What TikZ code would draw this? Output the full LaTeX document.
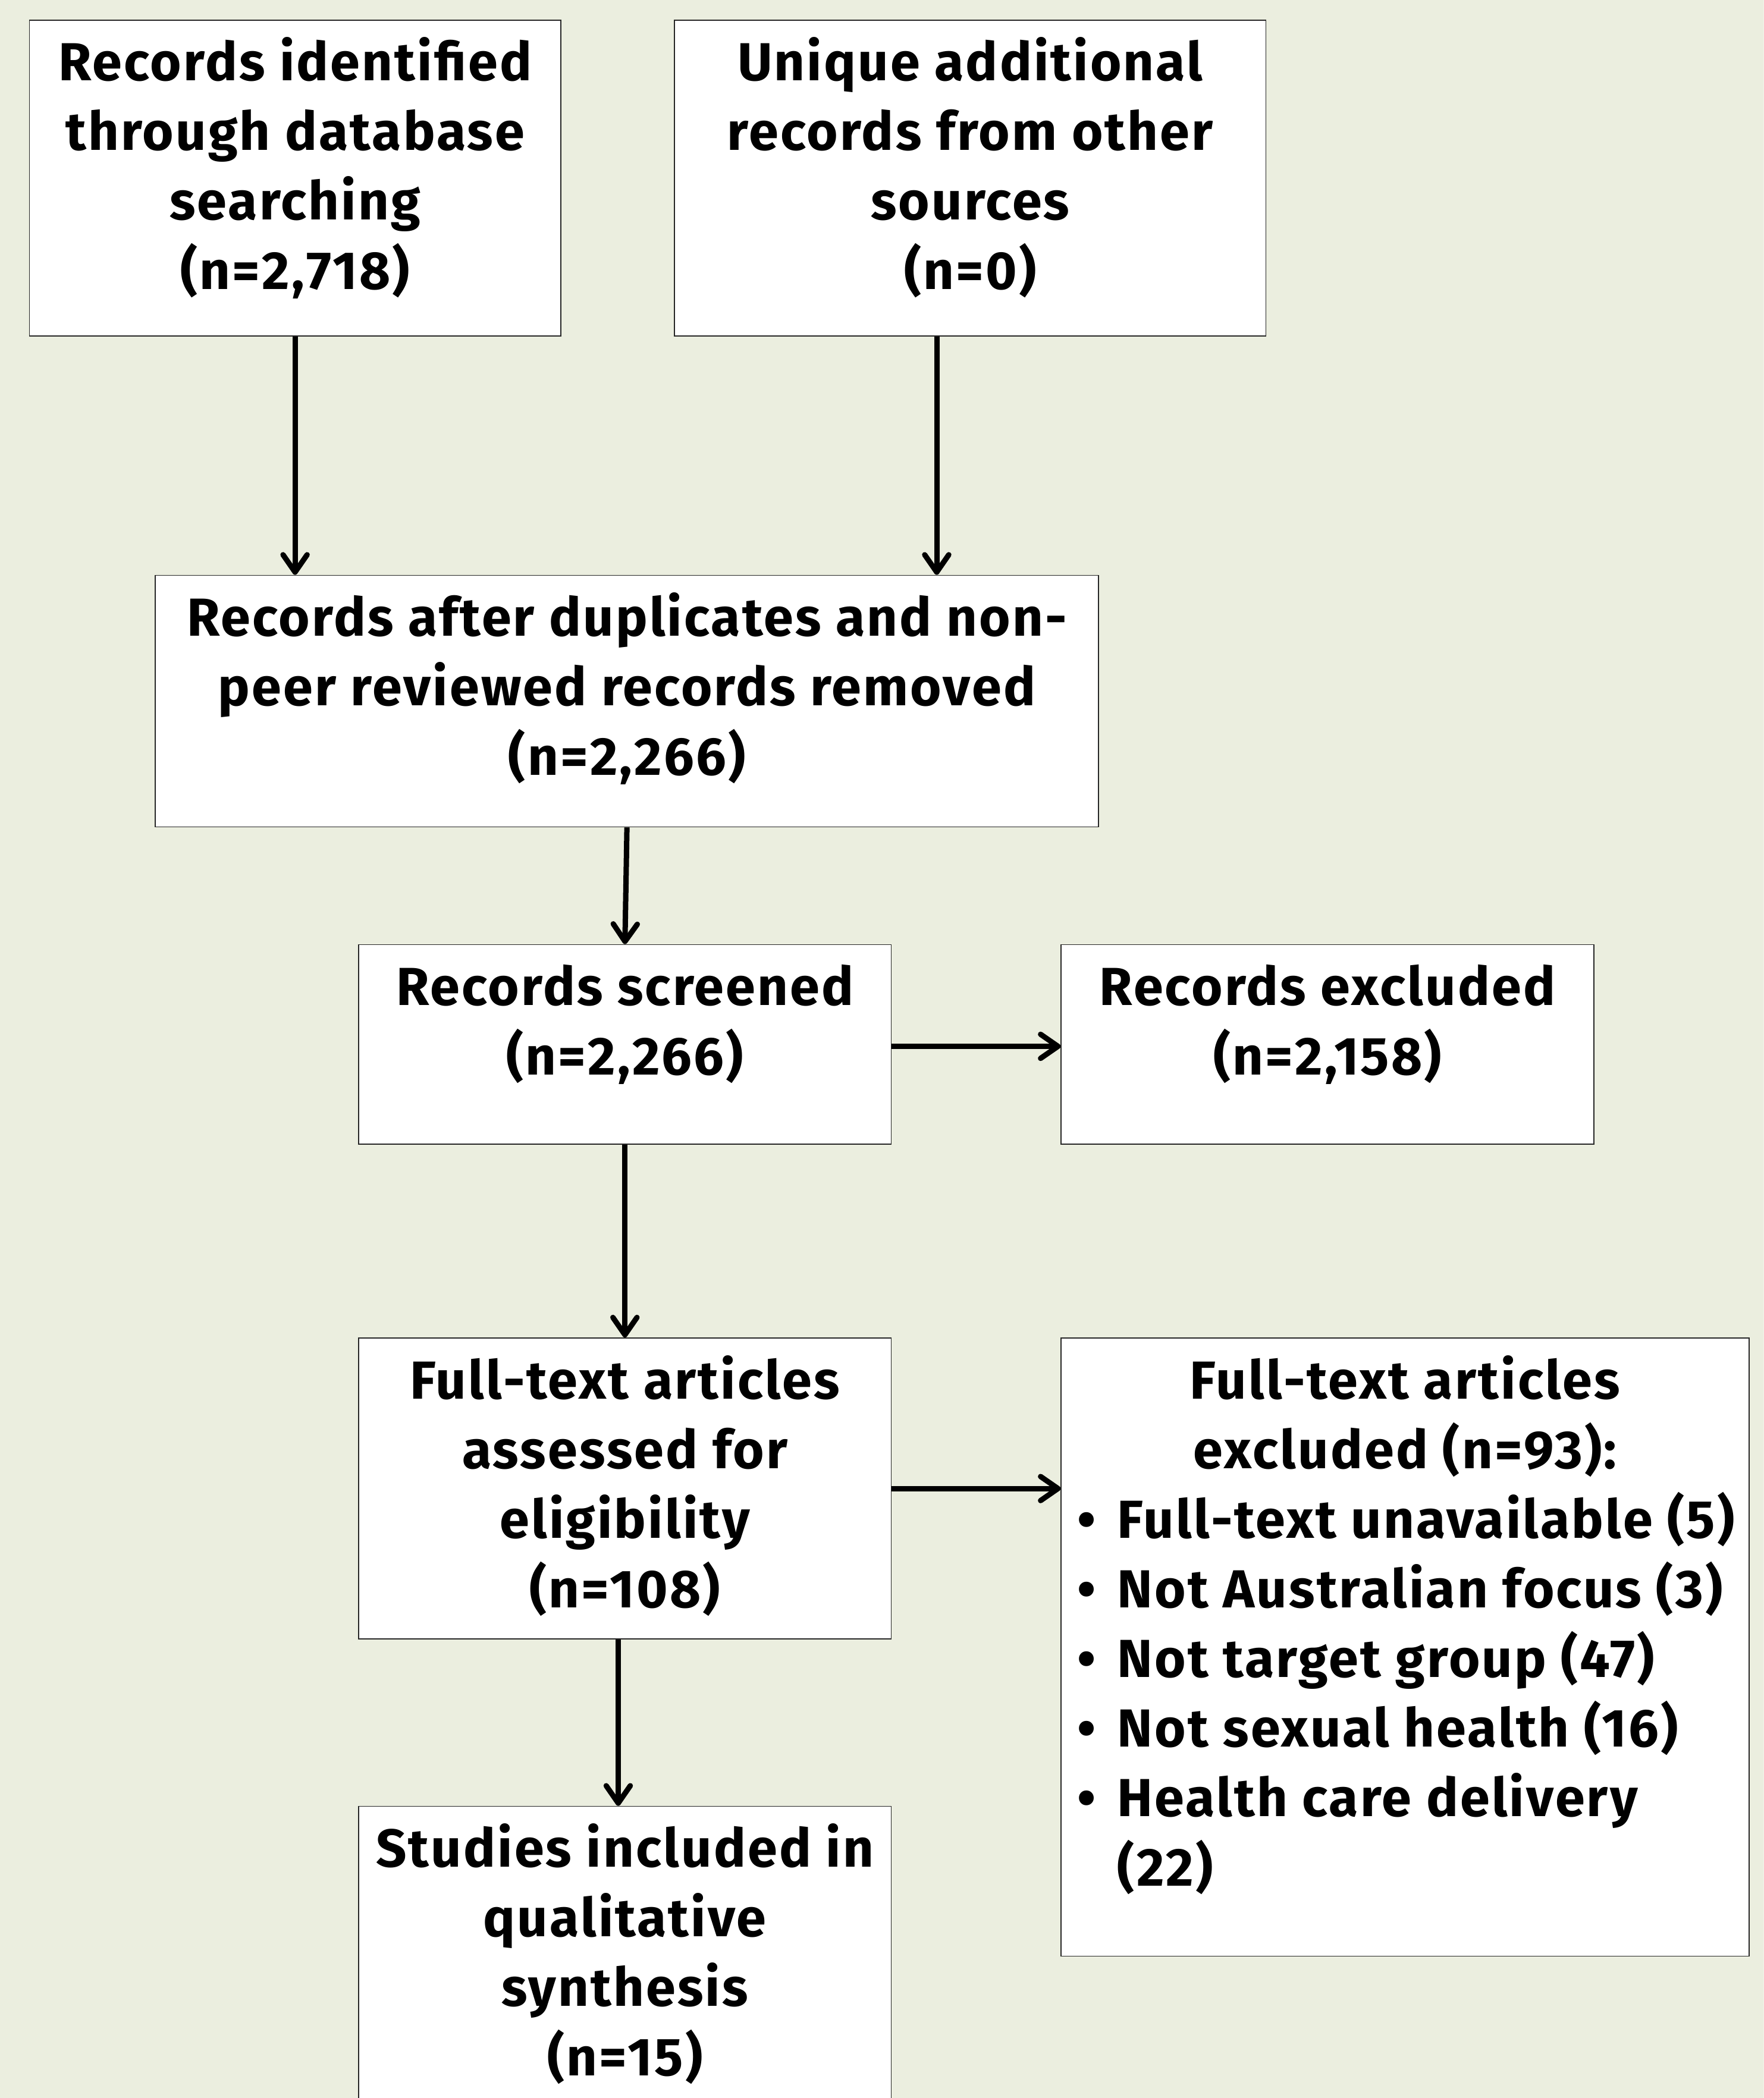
\documentclass[tikz,border=0pt]{standalone}
\usepackage{fontspec}
\setmainfont{Fira Sans}[LetterSpace=3.5]
\usetikzlibrary{arrows.meta}

\definecolor{bgcol}{HTML}{EBEEDF}
\definecolor{edgecol}{HTML}{262626}

% text set from the top of a box of given width and height
\newcommand{\toptext}[3]{\parbox[c][#2][t]{#1}{\centering\vspace*{9pt}\strut #3}}

\begin{document}
\begin{tikzpicture}[x=1pt, y=-1pt,
  box/.style={draw=edgecol, line width=0.8pt, fill=white, inner sep=0pt,
    font=\fontsize{40pt}{52pt}\selectfont\bfseries},
  arr/.style={line width=4pt, -{Straight Barb[length=13pt,width=18pt,round]}}]
\useasboundingbox (0,0) rectangle (1318,1568);
\clip (0,0) rectangle (1318,1568);
\fill[bgcol] (0,0) rectangle (1318,1568);

\node[box] (ident) at (220.5,133) {\toptext{397pt}{236pt}{Records identified\\through database\\searching\\(n=2,718)}};
\node[box] (other) at (725,133) {\toptext{442pt}{236pt}{Unique additional\\records from other\\sources\\(n=0)}};
\node[box] (dedup) at (468.5,524) {\toptext{705pt}{188pt}{Records after duplicates and non-\\peer reviewed records removed\\(n=2,266)}};
\node[box] (screen) at (467,780.5) {\toptext{398pt}{149pt}{Records screened\\(n=2,266)}};
\node[box] (excl) at (992,780.5) {\toptext{398pt}{149pt}{Records excluded\\(n=2,158)}};
\node[box] (full) at (467,1112.5) {\toptext{398pt}{225pt}{Full-text articles\\assessed for\\eligibility\\(n=108)}};
\node[box] (fullex) at (1050,1231) {\parbox[c][462pt][t]{514pt}{\vspace*{9pt}\centering\strut Full-text articles\\excluded (n=93):\par
  \raggedright\leftskip=12pt
  \mbox{\makebox[30pt][l]{\textbullet}Full-text unavailable (5)}\\
  \mbox{\makebox[30pt][l]{\textbullet}Not Australian focus (3)}\\
  \mbox{\makebox[30pt][l]{\textbullet}Not target group (47)}\\
  \mbox{\makebox[30pt][l]{\textbullet}Not sexual health (16)}\\
  \mbox{\makebox[30pt][l]{\textbullet}Health care delivery}\\
  \mbox{\hspace*{30pt}(22)}}};
\node[box] (incl) at (467,1470) {\toptext{398pt}{240pt}{Studies included in\\qualitative\\synthesis\\(n=15)}};

\draw[arr] (ident.south) -- (ident.south |- dedup.north);
\draw[arr] ([xshift=-25pt]other.south) -- ([xshift=-25pt]other.south |- dedup.north);
\draw[arr] (dedup.south) -- (screen.north);
\draw[arr] ([yshift=-1.5pt]screen.east) -- ([yshift=-1.5pt]excl.west);
\draw[arr] (screen.south) -- (full.north);
\draw[arr] (full.east) -- (full.east -| fullex.west);
\draw[arr] ([xshift=-5pt]full.south) -- ([xshift=-5pt]incl.north);
\end{tikzpicture}
\end{document}
